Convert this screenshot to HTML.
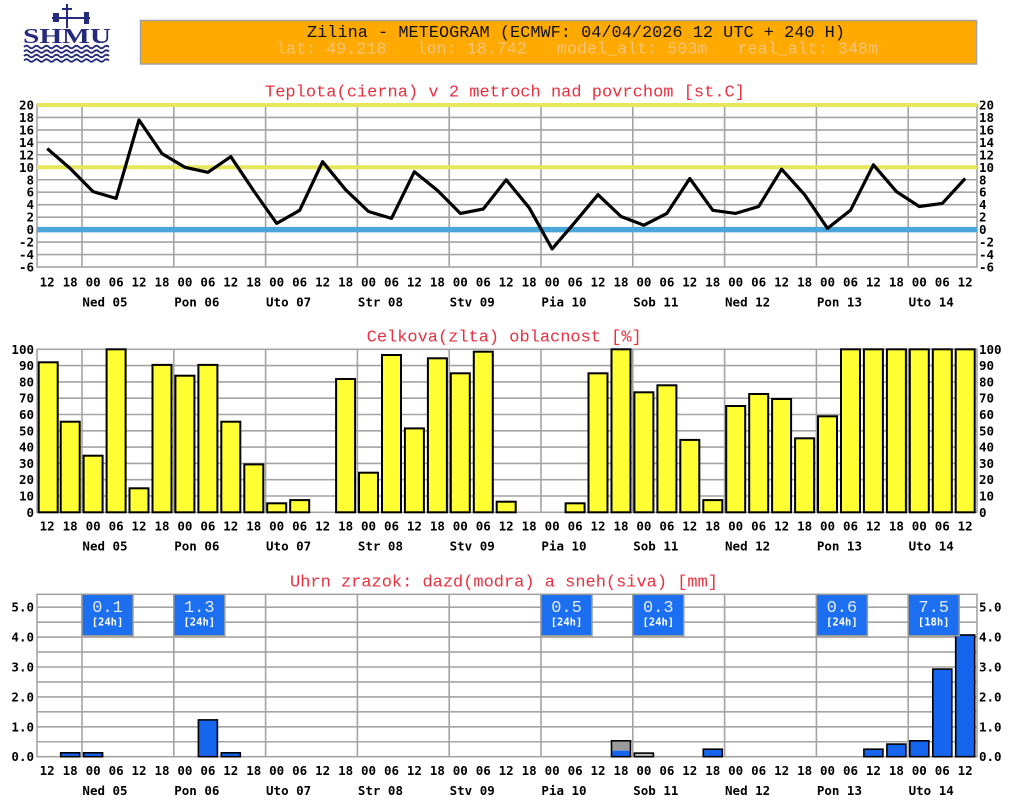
<!DOCTYPE html>
<html><head><meta charset="utf-8"><style>
html,body{margin:0;padding:0;background:#fff;}
svg{display:block;}
.t{font-family:"DejaVu Sans Mono","Liberation Mono",monospace;font-weight:bold;font-size:12.5px;fill:#000;}
.tk text{text-anchor:middle;}
.ttl{font-family:"Liberation Mono",monospace;font-size:16.5px;fill:#e8303f;}
.g{stroke:#a4a4a4;stroke-width:1.6;fill:none;}
.yb{fill:#ffff33;stroke:#000;stroke-width:2;}
.bb{fill:#1565ee;stroke:#000;stroke-width:1.6;}
.bx{fill:#1c6ff0;stroke:#9a9a9a;stroke-width:1.5;}
.bn{font-family:"Liberation Mono",monospace;font-size:17px;fill:#e4ecff;text-anchor:middle;}
.bs{font-family:"DejaVu Sans Mono","Liberation Mono",monospace;font-weight:bold;font-size:10.5px;fill:#fff;text-anchor:middle;}
</style></head><body>
<svg width="1015" height="805" viewBox="0 0 1015 805" xmlns="http://www.w3.org/2000/svg">
<rect x="0" y="0" width="1015" height="805" fill="#fff"/>

<!-- Logo -->
<g fill="#262a7a" stroke="#262a7a">
<line x1="67" y1="4" x2="67" y2="28" stroke-width="2"/>
<line x1="52" y1="18" x2="90" y2="18" stroke-width="2"/>
<rect x="53" y="13" width="6" height="9" stroke="none"/>
<rect x="84" y="12" width="5" height="12" stroke="none"/>
<line x1="62" y1="9" x2="72" y2="9" stroke-width="2"/>
<text x="23" y="43" font-family="Liberation Serif" font-weight="bold" font-size="21" textLength="88" lengthAdjust="spacingAndGlyphs" stroke="none">SHMU</text>
<g fill="none" stroke-width="1.8">
<path d="M24 47 q2.5 -2.5 5 0 t5 0 t5 0 t5 0 t5 0 t5 0 t5 0 t5 0 t5 0 t5 0 t5 0 t5 0 t5 0 t5 0 t5 0 t5 0 t5 0"/>
<path d="M24 51.5 q2.5 -2.5 5 0 t5 0 t5 0 t5 0 t5 0 t5 0 t5 0 t5 0 t5 0 t5 0 t5 0 t5 0 t5 0 t5 0 t5 0 t5 0 t5 0"/>
<path d="M24 56 q2.5 -2.5 5 0 t5 0 t5 0 t5 0 t5 0 t5 0 t5 0 t5 0 t5 0 t5 0 t5 0 t5 0 t5 0 t5 0 t5 0 t5 0 t5 0"/>
<path d="M24 60.5 q2.5 -2.5 5 0 t5 0 t5 0 t5 0 t5 0 t5 0 t5 0 t5 0 t5 0 t5 0 t5 0 t5 0 t5 0 t5 0 t5 0 t5 0 t5 0"/>
</g>
</g>

<!-- Header -->
<rect x="140.5" y="20.5" width="836" height="43.5" fill="#ffaa00" stroke="#a0a0a0" stroke-width="1.5"/>
<text x="307" y="37" font-family="Liberation Mono,monospace" font-size="17" fill="#111" textLength="538" lengthAdjust="spacingAndGlyphs">Zilina - METEOGRAM (ECMWF: 04/04/2026 12 UTC + 240 H)</text>
<text x="276" y="53.5" font-family="Liberation Mono,monospace" font-size="17" fill="#f5c47c" textLength="602" lengthAdjust="spacingAndGlyphs" style="white-space:pre">lat: 49.218   lon: 18.742   model_alt: 503m   real_alt: 348m</text>

<!-- ===== TEMPERATURE ===== -->
<text class="ttl" x="265" y="96.5" textLength="480" lengthAdjust="spacingAndGlyphs">Teplota(cierna) v 2 metroch nad povrchom [st.C]</text>
<g class="g">
<line x1="37" y1="117.46" x2="977" y2="117.46"/>
<line x1="37" y1="129.92" x2="977" y2="129.92"/>
<line x1="37" y1="142.38" x2="977" y2="142.38"/>
<line x1="37" y1="154.84" x2="977" y2="154.84"/>
<line x1="37" y1="179.76" x2="977" y2="179.76"/>
<line x1="37" y1="192.22" x2="977" y2="192.22"/>
<line x1="37" y1="204.68" x2="977" y2="204.68"/>
<line x1="37" y1="217.14" x2="977" y2="217.14"/>
<line x1="37" y1="242.06" x2="977" y2="242.06"/>
<line x1="37" y1="254.52" x2="977" y2="254.52"/>
<rect x="37" y="105" width="940" height="162"/>
<line x1="82" y1="105" x2="82" y2="267"/>
<line x1="173.8" y1="105" x2="173.8" y2="267"/>
<line x1="265.6" y1="105" x2="265.6" y2="267"/>
<line x1="357.4" y1="105" x2="357.4" y2="267"/>
<line x1="449.2" y1="105" x2="449.2" y2="267"/>
<line x1="541" y1="105" x2="541" y2="267"/>
<line x1="632.8" y1="105" x2="632.8" y2="267"/>
<line x1="724.6" y1="105" x2="724.6" y2="267"/>
<line x1="816.4" y1="105" x2="816.4" y2="267"/>
<line x1="908.2" y1="105" x2="908.2" y2="267"/>
</g>
<line x1="37" y1="105" x2="977" y2="105" stroke="#e6e65a" stroke-width="4"/>
<line x1="37" y1="167.3" x2="977" y2="167.3" stroke="#e6e65a" stroke-width="4"/>
<line x1="37" y1="229.6" x2="977" y2="229.6" stroke="#4aa6d8" stroke-width="5.5"/>
<polyline fill="none" stroke="#000" stroke-width="3.2" stroke-linejoin="round" points="47.2,148.6 70.2,168.5 93.1,191.6 116.1,198.4 139.0,120.0 162.0,153.6 184.9,167.3 207.9,172.3 230.8,156.7 253.8,191.0 276.7,223.4 299.7,210.3 322.6,161.7 345.6,189.7 368.5,211.5 391.5,218.4 414.4,171.7 437.4,190.4 460.3,213.4 483.3,209.0 506.2,179.8 529.2,207.8 552.1,248.9 575.1,222.1 598.0,194.7 621.0,216.5 643.9,225.2 666.9,213.4 689.8,178.5 712.8,210.3 735.7,213.4 758.7,206.5 781.6,169.2 804.6,194.7 827.5,228.4 850.5,210.3 873.4,164.8 896.4,191.6 919.3,206.5 942.3,203.4 965.2,178.5"/>
<g class="t" text-anchor="end">
<text x="34" y="109.5">20</text><text x="34" y="122">18</text><text x="34" y="134.4">16</text><text x="34" y="146.9">14</text><text x="34" y="159.3">12</text><text x="34" y="171.8">10</text><text x="34" y="184.3">8</text><text x="34" y="196.7">6</text><text x="34" y="209.2">4</text><text x="34" y="221.6">2</text><text x="34" y="234.1">0</text><text x="34" y="246.6">-2</text><text x="34" y="259">-4</text><text x="34" y="271.5">-6</text>
</g>
<g class="t" text-anchor="start">
<text x="979" y="109.5">20</text><text x="979" y="122">18</text><text x="979" y="134.4">16</text><text x="979" y="146.9">14</text><text x="979" y="159.3">12</text><text x="979" y="171.8">10</text><text x="979" y="184.3">8</text><text x="979" y="196.7">6</text><text x="979" y="209.2">4</text><text x="979" y="221.6">2</text><text x="979" y="234.1">0</text><text x="979" y="246.6">-2</text><text x="979" y="259">-4</text><text x="979" y="271.5">-6</text>
</g>

<!-- ===== CLOUD ===== -->
<text class="ttl" x="366.7" y="341.5" textLength="275" lengthAdjust="spacingAndGlyphs">Celkova(zlta) oblacnost [%]</text>
<g class="g">
<line x1="37" y1="365.6" x2="977" y2="365.6"/>
<line x1="37" y1="381.9" x2="977" y2="381.9"/>
<line x1="37" y1="398.2" x2="977" y2="398.2"/>
<line x1="37" y1="414.5" x2="977" y2="414.5"/>
<line x1="37" y1="430.8" x2="977" y2="430.8"/>
<line x1="37" y1="447.1" x2="977" y2="447.1"/>
<line x1="37" y1="463.4" x2="977" y2="463.4"/>
<line x1="37" y1="479.7" x2="977" y2="479.7"/>
<line x1="37" y1="496.0" x2="977" y2="496.0"/>
<rect x="37" y="349.3" width="940" height="163"/>
<line x1="82" y1="349.3" x2="82" y2="512.3"/>
<line x1="173.8" y1="349.3" x2="173.8" y2="512.3"/>
<line x1="265.6" y1="349.3" x2="265.6" y2="512.3"/>
<line x1="357.4" y1="349.3" x2="357.4" y2="512.3"/>
<line x1="449.2" y1="349.3" x2="449.2" y2="512.3"/>
<line x1="541" y1="349.3" x2="541" y2="512.3"/>
<line x1="632.8" y1="349.3" x2="632.8" y2="512.3"/>
<line x1="724.6" y1="349.3" x2="724.6" y2="512.3"/>
<line x1="816.4" y1="349.3" x2="816.4" y2="512.3"/>
<line x1="908.2" y1="349.3" x2="908.2" y2="512.3"/>
</g>
<g class="yb">
<rect x="38.7" y="362.3" width="19" height="150"/>
<rect x="60.7" y="421.7" width="19" height="90.6"/>
<rect x="83.6" y="455.7" width="19" height="56.6"/>
<rect x="106.6" y="349.3" width="19" height="163"/>
<rect x="129.5" y="488.3" width="19" height="24"/>
<rect x="152.5" y="364.9" width="19" height="147.4"/>
<rect x="175.4" y="375.7" width="19" height="136.6"/>
<rect x="198.4" y="364.9" width="19" height="147.4"/>
<rect x="221.3" y="421.7" width="19" height="90.6"/>
<rect x="244.3" y="464.4" width="19" height="47.9"/>
<rect x="267.2" y="503.3" width="19" height="9"/>
<rect x="290.2" y="500.1" width="19" height="12.2"/>
<rect x="336.1" y="379.0" width="19" height="133.3"/>
<rect x="359.0" y="472.7" width="19" height="39.6"/>
<rect x="382.0" y="355.0" width="19" height="157.3"/>
<rect x="404.9" y="428.4" width="19" height="83.9"/>
<rect x="427.9" y="358.3" width="19" height="154"/>
<rect x="450.8" y="373.3" width="19" height="139"/>
<rect x="473.8" y="351.7" width="19" height="160.6"/>
<rect x="496.7" y="501.7" width="19" height="10.6"/>
<rect x="565.6" y="503.3" width="19" height="9"/>
<rect x="588.5" y="373.3" width="19" height="139"/>
<rect x="611.5" y="349.3" width="19" height="163"/>
<rect x="634.4" y="392.3" width="19" height="120"/>
<rect x="657.4" y="385.3" width="19" height="127"/>
<rect x="680.3" y="439.9" width="19" height="72.4"/>
<rect x="703.3" y="500.1" width="19" height="12.2"/>
<rect x="726.2" y="406.0" width="19" height="106.3"/>
<rect x="749.2" y="394.0" width="19" height="118.3"/>
<rect x="772.1" y="399.0" width="19" height="113.3"/>
<rect x="795.1" y="438.3" width="19" height="74"/>
<rect x="818.0" y="416.3" width="19" height="96"/>
<rect x="841.0" y="349.3" width="19" height="163"/>
<rect x="863.9" y="349.3" width="19" height="163"/>
<rect x="886.9" y="349.3" width="19" height="163"/>
<rect x="909.8" y="349.3" width="19" height="163"/>
<rect x="932.8" y="349.3" width="19" height="163"/>
<rect x="955.7" y="349.3" width="19" height="163"/>
</g>
<g class="t" text-anchor="end">
<text x="34" y="353.8">100</text><text x="34" y="370.1">90</text><text x="34" y="386.4">80</text><text x="34" y="402.7">70</text><text x="34" y="419">60</text><text x="34" y="435.3">50</text><text x="34" y="451.6">40</text><text x="34" y="467.9">30</text><text x="34" y="484.2">20</text><text x="34" y="500.5">10</text><text x="34" y="516.8">0</text>
</g>
<g class="t" text-anchor="start">
<text x="979" y="353.8">100</text><text x="979" y="370.1">90</text><text x="979" y="386.4">80</text><text x="979" y="402.7">70</text><text x="979" y="419">60</text><text x="979" y="435.3">50</text><text x="979" y="451.6">40</text><text x="979" y="467.9">30</text><text x="979" y="484.2">20</text><text x="979" y="500.5">10</text><text x="979" y="516.8">0</text>
</g>

<!-- ===== PRECIP ===== -->
<text class="ttl" x="290" y="586.5" textLength="428" lengthAdjust="spacingAndGlyphs">Uhrn zrazok: dazd(modra) a sneh(siva) [mm]</text>
<g class="g">
<line x1="37" y1="741.75" x2="977" y2="741.75"/>
<line x1="37" y1="726.8" x2="977" y2="726.8"/>
<line x1="37" y1="711.85" x2="977" y2="711.85"/>
<line x1="37" y1="696.9" x2="977" y2="696.9"/>
<line x1="37" y1="681.95" x2="977" y2="681.95"/>
<line x1="37" y1="667.0" x2="977" y2="667.0"/>
<line x1="37" y1="652.05" x2="977" y2="652.05"/>
<line x1="37" y1="637.1" x2="977" y2="637.1"/>
<line x1="37" y1="622.15" x2="977" y2="622.15"/>
<line x1="37" y1="607.2" x2="977" y2="607.2"/>
<rect x="37" y="594.3" width="940" height="162.4"/>
<line x1="82" y1="594.3" x2="82" y2="756.7"/>
<line x1="173.8" y1="594.3" x2="173.8" y2="756.7"/>
<line x1="265.6" y1="594.3" x2="265.6" y2="756.7"/>
<line x1="357.4" y1="594.3" x2="357.4" y2="756.7"/>
<line x1="449.2" y1="594.3" x2="449.2" y2="756.7"/>
<line x1="541" y1="594.3" x2="541" y2="756.7"/>
<line x1="632.8" y1="594.3" x2="632.8" y2="756.7"/>
<line x1="724.6" y1="594.3" x2="724.6" y2="756.7"/>
<line x1="816.4" y1="594.3" x2="816.4" y2="756.7"/>
<line x1="908.2" y1="594.3" x2="908.2" y2="756.7"/>
</g>
<g class="bb">
<rect x="60.7" y="752.8" width="19" height="3.9"/>
<rect x="83.6" y="752.8" width="19" height="3.9"/>
<rect x="198.4" y="719.9" width="19" height="36.8"/>
<rect x="221.3" y="752.8" width="19" height="3.9"/>
<rect x="703.3" y="749.2" width="19" height="7.5"/>
<rect x="863.9" y="749.2" width="19" height="7.5"/>
<rect x="886.9" y="744.1" width="19" height="12.6"/>
<rect x="909.8" y="740.8" width="19" height="15.9"/>
<rect x="932.8" y="669.1" width="19" height="87.6"/>
<rect x="955.7" y="635.0" width="19" height="121.7"/>
</g>
<rect x="611.5" y="740.8" width="19" height="10" fill="#9a9a9a"/>
<rect x="611.5" y="750.7" width="19" height="6" fill="#1565ee"/>
<rect x="611.5" y="740.8" width="19" height="15.9" fill="none" stroke="#000" stroke-width="1.6"/>
<rect x="634.4" y="753.1" width="19" height="3.6" fill="#bdbdbd" stroke="#000" stroke-width="1.6"/>
<g>
<rect class="bx" x="82" y="594.3" width="51" height="41.4"/>
<rect class="bx" x="173.8" y="594.3" width="51" height="41.4"/>
<rect class="bx" x="541" y="594.3" width="51" height="41.4"/>
<rect class="bx" x="632.8" y="594.3" width="51" height="41.4"/>
<rect class="bx" x="816.4" y="594.3" width="51" height="41.4"/>
<rect class="bx" x="908.2" y="594.3" width="51" height="41.4"/>
</g>
<text class="bn" x="107.5" y="612">0.1</text><text class="bs" x="107.5" y="625.5">[24h]</text>
<text class="bn" x="199.3" y="612">1.3</text><text class="bs" x="199.3" y="625.5">[24h]</text>
<text class="bn" x="566.5" y="612">0.5</text><text class="bs" x="566.5" y="625.5">[24h]</text>
<text class="bn" x="658.3" y="612">0.3</text><text class="bs" x="658.3" y="625.5">[24h]</text>
<text class="bn" x="841.9" y="612">0.6</text><text class="bs" x="841.9" y="625.5">[24h]</text>
<text class="bn" x="933.7" y="612">7.5</text><text class="bs" x="933.7" y="625.5">[18h]</text>
<g class="t" text-anchor="end">
<text x="34" y="611.7">5.0</text><text x="34" y="641.6">4.0</text><text x="34" y="671.5">3.0</text><text x="34" y="701.4">2.0</text><text x="34" y="731.3">1.0</text><text x="34" y="761.2">0.0</text>
</g>
<g class="t" text-anchor="start">
<text x="979" y="611.7">5.0</text><text x="979" y="641.6">4.0</text><text x="979" y="671.5">3.0</text><text x="979" y="701.4">2.0</text><text x="979" y="731.3">1.0</text><text x="979" y="761.2">0.0</text>
</g>

<!-- ===== TICK LABELS (temp) ===== -->
<g class="t tk">
<text x="47.2" y="286.5">12</text><text x="70.2" y="286.5">18</text><text x="93.1" y="286.5">00</text><text x="116.1" y="286.5">06</text>
<text x="139.0" y="286.5">12</text><text x="162.0" y="286.5">18</text><text x="184.9" y="286.5">00</text><text x="207.9" y="286.5">06</text>
<text x="230.8" y="286.5">12</text><text x="253.8" y="286.5">18</text><text x="276.7" y="286.5">00</text><text x="299.7" y="286.5">06</text>
<text x="322.6" y="286.5">12</text><text x="345.6" y="286.5">18</text><text x="368.5" y="286.5">00</text><text x="391.5" y="286.5">06</text>
<text x="414.4" y="286.5">12</text><text x="437.4" y="286.5">18</text><text x="460.3" y="286.5">00</text><text x="483.3" y="286.5">06</text>
<text x="506.2" y="286.5">12</text><text x="529.2" y="286.5">18</text><text x="552.1" y="286.5">00</text><text x="575.1" y="286.5">06</text>
<text x="598.0" y="286.5">12</text><text x="621.0" y="286.5">18</text><text x="643.9" y="286.5">00</text><text x="666.9" y="286.5">06</text>
<text x="689.8" y="286.5">12</text><text x="712.8" y="286.5">18</text><text x="735.7" y="286.5">00</text><text x="758.7" y="286.5">06</text>
<text x="781.6" y="286.5">12</text><text x="804.6" y="286.5">18</text><text x="827.5" y="286.5">00</text><text x="850.5" y="286.5">06</text>
<text x="873.4" y="286.5">12</text><text x="896.4" y="286.5">18</text><text x="919.3" y="286.5">00</text><text x="942.3" y="286.5">06</text>
<text x="965.2" y="286.5">12</text>
<text x="105" y="306.7">Ned 05</text><text x="196.8" y="306.7">Pon 06</text><text x="288.6" y="306.7">Uto 07</text><text x="380.4" y="306.7">Str 08</text><text x="472.2" y="306.7">Stv 09</text>
<text x="564" y="306.7">Pia 10</text><text x="655.8" y="306.7">Sob 11</text><text x="747.6" y="306.7">Ned 12</text><text x="839.4" y="306.7">Pon 13</text><text x="931.2" y="306.7">Uto 14</text>
</g>
<!-- cloud ticks -->
<g class="t tk">
<text x="47.2" y="530.5">12</text><text x="70.2" y="530.5">18</text><text x="93.1" y="530.5">00</text><text x="116.1" y="530.5">06</text>
<text x="139.0" y="530.5">12</text><text x="162.0" y="530.5">18</text><text x="184.9" y="530.5">00</text><text x="207.9" y="530.5">06</text>
<text x="230.8" y="530.5">12</text><text x="253.8" y="530.5">18</text><text x="276.7" y="530.5">00</text><text x="299.7" y="530.5">06</text>
<text x="322.6" y="530.5">12</text><text x="345.6" y="530.5">18</text><text x="368.5" y="530.5">00</text><text x="391.5" y="530.5">06</text>
<text x="414.4" y="530.5">12</text><text x="437.4" y="530.5">18</text><text x="460.3" y="530.5">00</text><text x="483.3" y="530.5">06</text>
<text x="506.2" y="530.5">12</text><text x="529.2" y="530.5">18</text><text x="552.1" y="530.5">00</text><text x="575.1" y="530.5">06</text>
<text x="598.0" y="530.5">12</text><text x="621.0" y="530.5">18</text><text x="643.9" y="530.5">00</text><text x="666.9" y="530.5">06</text>
<text x="689.8" y="530.5">12</text><text x="712.8" y="530.5">18</text><text x="735.7" y="530.5">00</text><text x="758.7" y="530.5">06</text>
<text x="781.6" y="530.5">12</text><text x="804.6" y="530.5">18</text><text x="827.5" y="530.5">00</text><text x="850.5" y="530.5">06</text>
<text x="873.4" y="530.5">12</text><text x="896.4" y="530.5">18</text><text x="919.3" y="530.5">00</text><text x="942.3" y="530.5">06</text>
<text x="965.2" y="530.5">12</text>
<text x="105" y="550.7">Ned 05</text><text x="196.8" y="550.7">Pon 06</text><text x="288.6" y="550.7">Uto 07</text><text x="380.4" y="550.7">Str 08</text><text x="472.2" y="550.7">Stv 09</text>
<text x="564" y="550.7">Pia 10</text><text x="655.8" y="550.7">Sob 11</text><text x="747.6" y="550.7">Ned 12</text><text x="839.4" y="550.7">Pon 13</text><text x="931.2" y="550.7">Uto 14</text>
</g>
<!-- precip ticks -->
<g class="t tk">
<text x="47.2" y="775">12</text><text x="70.2" y="775">18</text><text x="93.1" y="775">00</text><text x="116.1" y="775">06</text>
<text x="139.0" y="775">12</text><text x="162.0" y="775">18</text><text x="184.9" y="775">00</text><text x="207.9" y="775">06</text>
<text x="230.8" y="775">12</text><text x="253.8" y="775">18</text><text x="276.7" y="775">00</text><text x="299.7" y="775">06</text>
<text x="322.6" y="775">12</text><text x="345.6" y="775">18</text><text x="368.5" y="775">00</text><text x="391.5" y="775">06</text>
<text x="414.4" y="775">12</text><text x="437.4" y="775">18</text><text x="460.3" y="775">00</text><text x="483.3" y="775">06</text>
<text x="506.2" y="775">12</text><text x="529.2" y="775">18</text><text x="552.1" y="775">00</text><text x="575.1" y="775">06</text>
<text x="598.0" y="775">12</text><text x="621.0" y="775">18</text><text x="643.9" y="775">00</text><text x="666.9" y="775">06</text>
<text x="689.8" y="775">12</text><text x="712.8" y="775">18</text><text x="735.7" y="775">00</text><text x="758.7" y="775">06</text>
<text x="781.6" y="775">12</text><text x="804.6" y="775">18</text><text x="827.5" y="775">00</text><text x="850.5" y="775">06</text>
<text x="873.4" y="775">12</text><text x="896.4" y="775">18</text><text x="919.3" y="775">00</text><text x="942.3" y="775">06</text>
<text x="965.2" y="775">12</text>
<text x="105" y="795">Ned 05</text><text x="196.8" y="795">Pon 06</text><text x="288.6" y="795">Uto 07</text><text x="380.4" y="795">Str 08</text><text x="472.2" y="795">Stv 09</text>
<text x="564" y="795">Pia 10</text><text x="655.8" y="795">Sob 11</text><text x="747.6" y="795">Ned 12</text><text x="839.4" y="795">Pon 13</text><text x="931.2" y="795">Uto 14</text>
</g>
</svg>
</body></html>
